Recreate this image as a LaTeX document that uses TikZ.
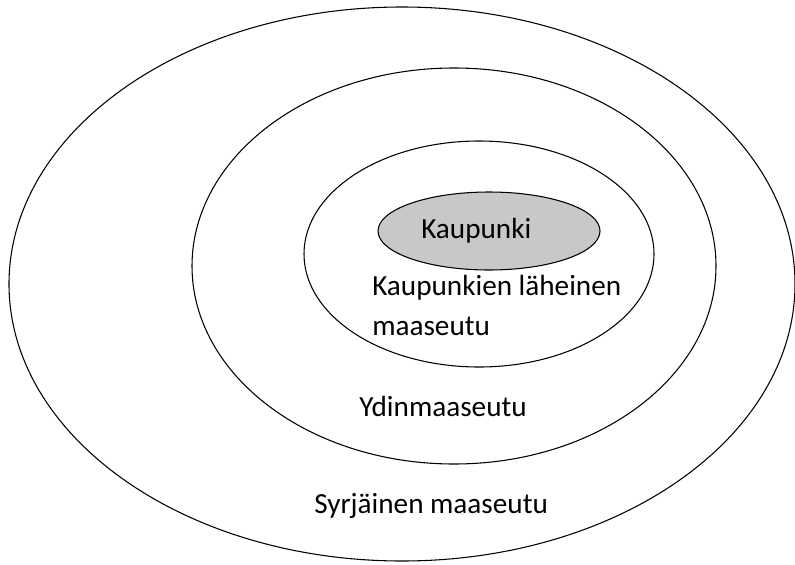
\documentclass[tikz,border=0pt]{standalone}
\usepackage{fontspec}
\setmainfont{Carlito}
\usepackage{tikz}
\definecolor{citygray}{RGB}{200,200,200}

\begin{document}
\begin{tikzpicture}[x=0.75pt,y=-0.75pt,
		zone/.style={line width=0.8pt},
		lbl/.style={font=\fontsize{21.9}{26}\selectfont, inner sep=0pt, anchor=west}]
			\useasboundingbox (0,0) rectangle (795,564);
			
			\draw[zone] (402,284) ellipse (393 and 277);
			\draw[zone] (454,266) ellipse (262 and 198);
			\draw[zone] (479,254) ellipse (175 and 113);
			\draw[zone, fill=citygray] (489,231) ellipse (111 and 39);
			
			\node[lbl] (city) at (421,231) {Kaupunki};
			\node[lbl] (near1) at (372,288) {Kaupunkien läheinen};
			\node[lbl] (near2) at (372,326) {maaseutu};
			\node[lbl] (core) at (359,406) {Ydinmaaseutu};
			\node[lbl] (remote) at (314,506) {Syrjäinen maaseutu};
		\end{tikzpicture}
\end{document}
